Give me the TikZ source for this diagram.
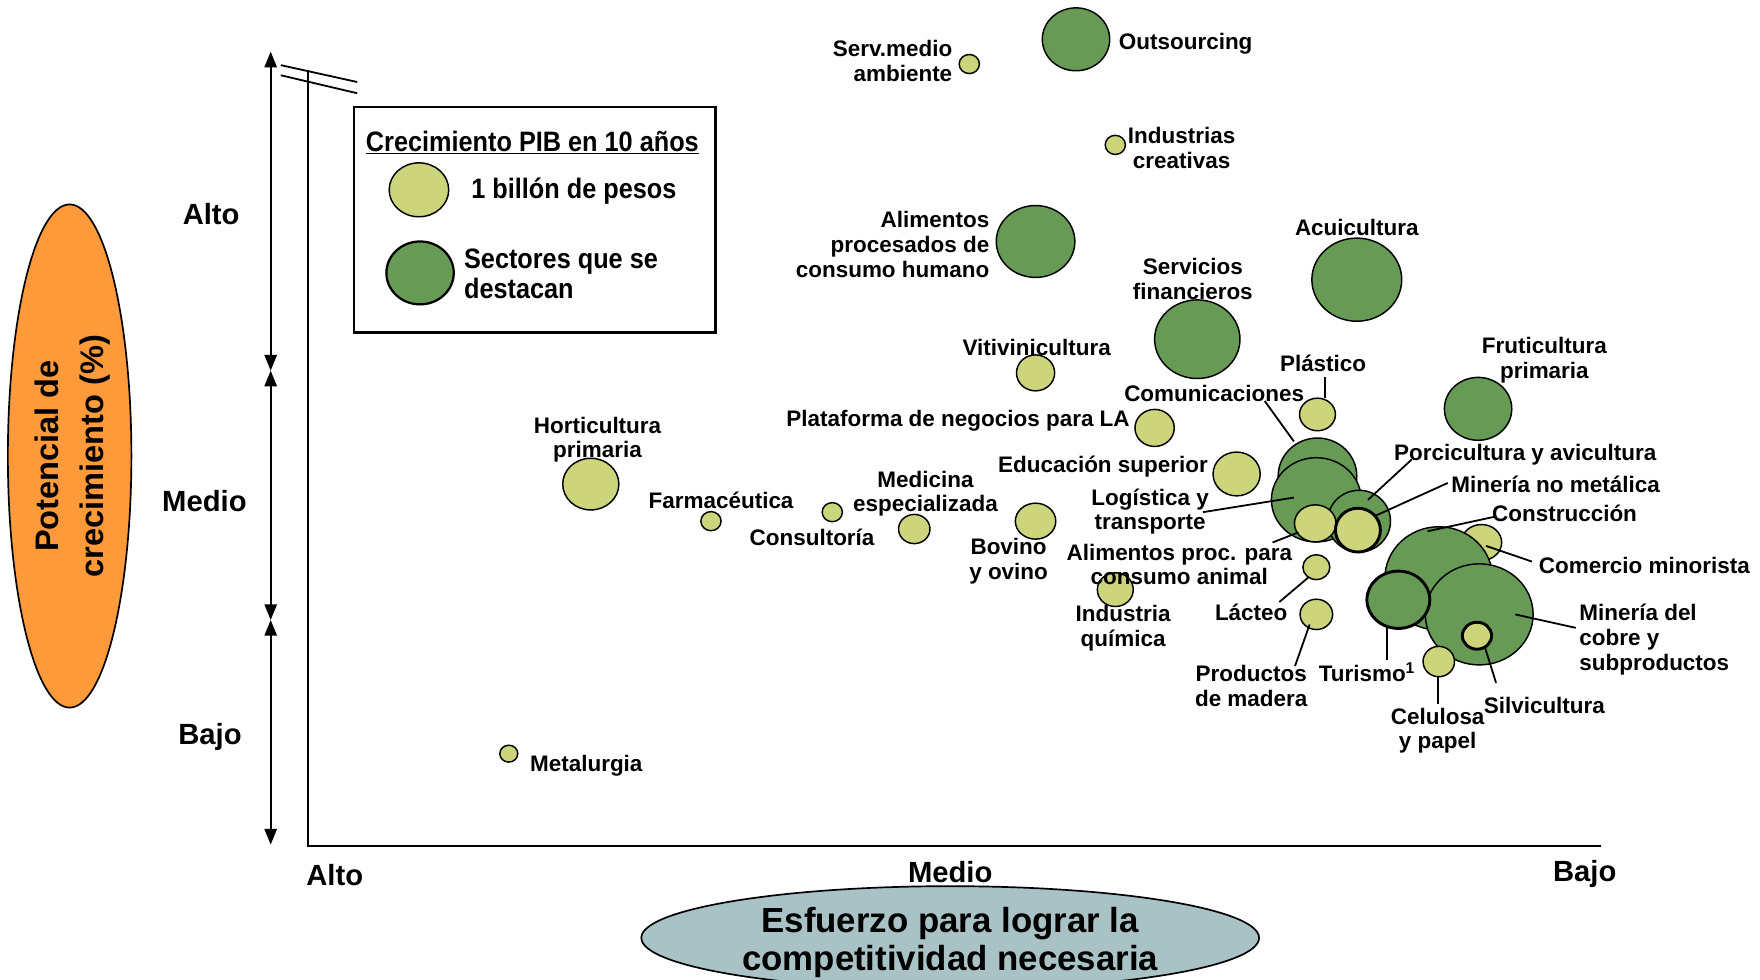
\documentclass[tikz,border=0pt]{standalone}
\usepackage{fontspec}
\setmainfont{Liberation Sans}
\newfontfamily\narrowfont{Liberation Sans}[FakeStretch=0.9]
\usetikzlibrary{shapes.geometric,arrows.meta}
\definecolor{lgreen}{HTML}{CCD47C}
\definecolor{dgreen}{HTML}{669A55}
\definecolor{orng}{HTML}{FF9A3A}
\definecolor{slate}{HTML}{A9C2C5}
\newcommand\mybub[6]{\node[#1, minimum width=#5pt, minimum height=#6pt] (#2) at (#3,#4) {};}
\begin{document}
\begin{tikzpicture}[x=1pt,y=-1pt,
  lbl/.style={font=\fontsize{20}{22}\selectfont\bfseries, inner sep=0pt, align=center, yshift=-1.5pt},
  axl/.style={font=\fontsize{26}{28}\selectfont\bfseries, inner sep=0pt, yshift=-1.5pt},
  bl/.style={ellipse, draw=black, line width=1.3pt, fill=lgreen, inner sep=0pt},
  bd/.style={ellipse, draw=black, line width=1.3pt, fill=dgreen, inner sep=0pt},
  bthick/.style={line width=2.6pt},
  con/.style={line width=1.6pt},
  axis/.style={line width=1.4pt},
  arr/.style={line width=1.6pt, -{Triangle[width=11pt,length=14pt]}}
]
\useasboundingbox (0,0) rectangle (1567,872.5);
\fill[white] (0,0) rectangle (1567,872.5);

% y-axis title
\node[ellipse, draw=black, line width=1.5pt, fill=orng, minimum width=110pt, minimum height=448pt, inner sep=0pt] (yell) at (62,406) {};
\node[rotate=90, font=\fontsize{29}{40}\selectfont\bfseries, align=center, inner sep=0pt] (ytitle) at (65,406) {Potencial de\\crecimiento (\%)};

% x-axis title
\node[ellipse, draw=black, line width=1.5pt, fill=slate, minimum width=550pt, minimum height=92pt, inner sep=0pt] (xell) at (846,835) {};
\node[font=\fontsize{31}{34}\selectfont\bfseries, align=center, inner sep=0pt] (xtitle) at (846,839) {Esfuerzo para lograr la\\competitividad necesaria};

% vertical scale arrows
\coordinate (a0) at (241,46);
\coordinate (a1) at (241,330);
\coordinate (a2) at (241,552);
\coordinate (a3) at (241,752);
\coordinate (m01) at (241,188);
\coordinate (m12) at (241,441);
\coordinate (m23) at (241,652);
\draw[arr] (m01) -- (a0);
\draw[arr] (m01) -- (a1);
\draw[arr] (m12) -- (a1);
\draw[arr] (m12) -- (a2);
\draw[arr] (m23) -- (a2);
\draw[arr] (m23) -- (a3);

% plot axes
\coordinate (o) at (274,753);
\coordinate (ytop) at (274,62);
\coordinate (xend) at (1425,753);
\draw[axis] (ytop) -- (o) -- (xend);
\coordinate (b1a) at (250,58); \coordinate (b1b) at (318,73);
\coordinate (b2a) at (250,67); \coordinate (b2b) at (318,83);
\draw[line width=1.6pt] (b1a) -- (b1b);
\draw[line width=1.6pt] (b2a) -- (b2b);

% axis labels
\node[axl] (yA) at (188,189) {Alto};
\node[axl] (yM) at (182,445) {Medio};
\node[axl] (yB) at (187,655) {Bajo};
\node[axl] (xA) at (298,778) {Alto};
\node[axl] (xM) at (846,775) {Medio};
\node[axl] (xB) at (1411,777) {Bajo};

% legend
\node[draw=black, line width=2pt, minimum width=322pt, minimum height=201pt, inner sep=0pt] (leg) at (476,195.5) {};
\node[font=\fontsize{25}{27}\narrowfont\bfseries, inner sep=0pt] (legt) at (474,127) {\underline{Crecimiento PIB en 10 años}};
\mybub{bl}{legl}{373}{169}{53}{48}
\node[font=\fontsize{25}{27}\narrowfont\bfseries, inner sep=0pt] (legl1) at (511,170) {1 billón de pesos};
\mybub{bd, line width=2pt}{legd}{374}{243}{60}{56}
\node[font=\fontsize{25}{27}\narrowfont\bfseries, inner sep=0pt, align=left, anchor=west] (legd1) at (413,244) {Sectores que se\\destacan};

% bubbles
\mybub{bl}{serv}{863}{57}{18}{17}
\mybub{bd}{outs}{958}{35}{60}{56}
\mybub{bl}{indc}{993}{129}{18}{17}
\mybub{bd}{alim}{922}{215}{70}{64}
\mybub{bd}{acui}{1208}{249}{80}{74}
\mybub{bd}{serf}{1066}{302}{76}{70}
\mybub{bl}{viti}{922}{332}{34}{32}
\mybub{bl}{plas}{1173}{369}{32}{29}
\mybub{bd}{frut}{1316}{364}{60}{56}
\mybub{bl}{plat}{1028}{381}{35}{33}
\mybub{bl}{educ}{1101}{422}{42}{39}
\mybub{bd}{comu}{1173}{424}{70}{68}
\mybub{bd}{logi}{1172}{445}{80}{75}
\mybub{bd}{porc}{1210}{464}{56}{55}
\mybub{bl}{alan}{1171}{466}{37}{33}
\mybub{bl,bthick}{mnm}{1209}{472}{40}{39}
\mybub{bl}{horti}{526}{431}{50}{46}
\mybub{bl}{farm}{633}{464}{18}{17}
\mybub{bl}{cons}{741}{456}{18}{17}
\mybub{bl}{medi}{814}{471}{28}{26}
\mybub{bl}{bovi}{922}{464}{36}{32}
\mybub{bl}{indq}{993}{525}{32}{30}
\mybub{bl}{lact}{1172}{505}{24}{22}
\mybub{bl}{prod}{1172}{547}{29}{27}
\mybub{bl}{come}{1319}{483}{36}{32}
\mybub{bd}{cnst}{1281}{515}{96}{92}
\mybub{bd}{cobre}{1317}{547}{96}{90}
\mybub{bd,bthick}{turi}{1245}{534}{56}{51}
\mybub{bl,bthick}{silv}{1315}{566}{26}{24}
\mybub{bl}{celu}{1281}{589}{28}{27}
\mybub{bl}{meta}{453}{671}{16}{15}

% labels
\node[lbl, align=right, anchor=east] (servl) at (848,53) {Serv.medio\\ambiente};
\node[lbl, anchor=west] (outsl) at (996,37) {Outsourcing};
\node[lbl] (indcl) at (1052,130) {Industrias\\creativas};
\node[lbl, align=right, anchor=east] (aliml) at (881,216) {Alimentos\\procesados de\\consumo humano};
\node[lbl] (acuil) at (1208,201) {Acuicultura};
\node[lbl] (serfl) at (1062,247) {Servicios\\financieros};
\node[lbl] (vitil) at (923,308) {Vitivinicultura};
\node[lbl] (plasl) at (1178,322) {Plástico};
\node[lbl] (frutl) at (1375,319) {Fruticultura\\primaria};
\node[lbl] (comul) at (1081,349) {Comunicaciones};
\node[lbl] (platl) at (853,373) {Plataforma de negocios para LA};
\node[lbl] (porcl) at (1358,403) {Porcicultura y avicultura};
\node[lbl] (educl) at (982,414) {Educación superior};
\node[lbl] (mnml) at (1385,430) {Minería no metálica};
\node[lbl] (logil) at (1024,454) {Logística y\\transporte};
\node[lbl] (cnstl) at (1393,456) {Construcción};
\node[lbl] (alanl) at (1050,501) {Alimentos proc. para\\consumo animal};
\node[lbl] (comel) at (1464,502) {Comercio minorista};
\node[lbl] (lactl) at (1114,544) {Lácteo};
\node[lbl, align=left, anchor=west] (cobrel) at (1406,568) {Minería del\\cobre y\\subproductos};
\node[lbl] (indql) at (1000,558) {Industria\\química};
\node[lbl] (bovil) at (898,498) {Bovino\\y ovino};
\node[lbl] (medil) at (824,438) {Medicina\\especializada};
\node[lbl] (consl) at (723,477) {Consultoría};
\node[lbl] (farml) at (642,444) {Farmacéutica};
\node[lbl] (hortl) at (532,390) {Horticultura\\primaria};
\node[lbl] (metal) at (522,680) {Metalurgia};
\node[lbl] (prodl) at (1114,609) {Productos\\de madera};
\node[lbl] (turil) at (1217,597) {Turismo\textsuperscript{1}};
\node[lbl] (silvl) at (1375,627) {Silvicultura};
\node[lbl] (celul) at (1280,649) {Celulosa\\y papel};

% connectors
\coordinate (comuA) at (1126,357); \coordinate (comuB) at (1152,393);
\coordinate (plasA) at (1180,336); \coordinate (plasB) at (1180,354);
\coordinate (porcA) at (1257,409); \coordinate (porcB) at (1218,445);
\coordinate (mnmA) at (1289,430); \coordinate (mnmB) at (1225,459);
\coordinate (logiA) at (1071,456); \coordinate (logiB) at (1152,443);
\coordinate (alanA) at (1133,483); \coordinate (alanB) at (1156,474);
\coordinate (cnstA) at (1331,460); \coordinate (cnstB) at (1271,473);
\coordinate (comeA) at (1364,500); \coordinate (comeB) at (1323,486);
\coordinate (lactA) at (1139,536); \coordinate (lactB) at (1165,514);
\coordinate (prodA) at (1153,593); \coordinate (prodB) at (1166,556);
\coordinate (turiA) at (1235,588); \coordinate (turiB) at (1235,558);
\coordinate (cobreA) at (1403,559); \coordinate (cobreB) at (1349,547);
\coordinate (silvA) at (1332,608); \coordinate (silvB) at (1322,576);
\coordinate (celuA) at (1280,627); \coordinate (celuB) at (1280,602);
\foreach \c in {comu,plas,porc,mnm,logi,alan,cnst,come,lact,prod,turi,cobre,silv,celu}
  \draw[con] (\c A) -- (\c B);
\end{tikzpicture}
\end{document}
